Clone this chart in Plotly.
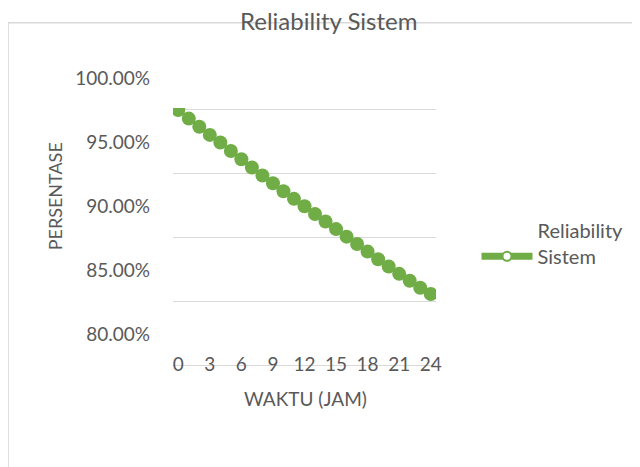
import plotly.graph_objects as go

hours = list(range(0, 25))
reliability = [0.9992, 0.9925, 0.9862, 0.9798, 0.9738, 0.9672, 0.9607, 0.9543,
               0.9481, 0.9420, 0.9358, 0.9298, 0.9240, 0.9180, 0.9121, 0.9062,
               0.9003, 0.8945, 0.8886, 0.8826, 0.8770, 0.8712, 0.8658, 0.8603, 0.8555]
y_ticks = [0.80, 0.85, 0.90, 0.95, 1.00]
x_ticks = [0, 3, 6, 9, 12, 15, 18, 21, 24]
series_name = "Reliability<br>Sistem"
title_text = "Reliability Sistem"
x_title = "WAKTU (JAM)"
y_title = "PERSENTASE"

GREEN = "#70AD47"
GRAY_TXT = "#595959"
GRID = "#d9d9d9"
FONT = "Lato"

fig = go.Figure()
fig.add_trace(go.Scatter(
    x=hours, y=reliability, mode="lines+markers", name=series_name,
    line=dict(color=GREEN, width=3),
    marker=dict(color=GREEN, size=14),
    showlegend=False,
))
# legend proxy (Excel-style legend key: thick line with small hollow marker)
fig.add_trace(go.Scatter(
    x=[None], y=[None], mode="lines+markers", name=series_name,
    line=dict(color=GREEN, width=7),
    marker=dict(color="white", size=9, line=dict(color=GREEN, width=2)),
    showlegend=True,
))

fig.update_layout(
    width=640, height=467,
    margin=dict(l=165, r=212, t=100, b=110),
    paper_bgcolor="white", plot_bgcolor="white",
    font=dict(family=FONT, color=GRAY_TXT, size=19),
    showlegend=True,
    legend=dict(x=1.154, y=0.6, xanchor="left", yanchor="top",
                font=dict(size=20, color=GRAY_TXT), itemwidth=51,
                valign="bottom", bgcolor="rgba(0,0,0,0)"),
    xaxis=dict(range=[-0.5, 24.5], tickvals=x_ticks, showgrid=False,
               showline=True, linecolor=GRID, linewidth=1, ticks="",
               zeroline=False, ticklabelstandoff=-18,
               tickfont=dict(size=19, color=GRAY_TXT)),
    yaxis=dict(range=[0.80, 1.0008], tickvals=y_ticks, tickformat=".2%",
               showgrid=True, gridcolor=GRID, gridwidth=1, showline=False,
               zeroline=False, ticks="", ticklabelshift=-31, ticklabelstandoff=22,
               tickfont=dict(size=19, color=GRAY_TXT)),
    shapes=[dict(type="rect", xref="paper", yref="paper",
                 x0=-0.627, x1=1.9, y0=-0.45, y1=1.332,
                 line=dict(color=GRID, width=1.5), fillcolor="rgba(0,0,0,0)",
                 layer="below")],
    annotations=[
        dict(text=title_text, xref="paper", yref="paper", x=0.593, y=1.34,
             xanchor="center", yanchor="middle", showarrow=False,
             font=dict(size=24, color=GRAY_TXT, family=FONT)),
        dict(text=x_title, xref="paper", yref="paper", x=0.502, y=-0.129,
             xanchor="center", yanchor="middle", showarrow=False,
             font=dict(size=19, color=GRAY_TXT, family=FONT)),
        dict(text=y_title, xref="paper", yref="paper", x=-0.449, y=0.656,
             xanchor="center", yanchor="middle", showarrow=False, textangle=-90,
             font=dict(size=18, color=GRAY_TXT, family=FONT)),
    ],
)

fig.write_html("out.html")
